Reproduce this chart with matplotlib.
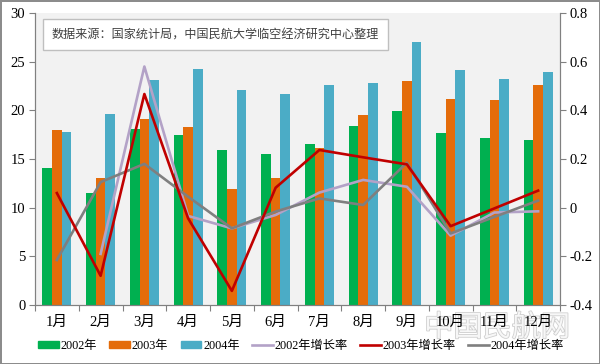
import numpy as np
import matplotlib
matplotlib.use("Agg")
import matplotlib.pyplot as plt
from matplotlib.patches import Patch
from matplotlib.lines import Line2D
import matplotlib.patheffects as pe

plt.rcParams['font.family'] = ['Liberation Serif', 'Noto Sans CJK SC']

months = ['1月', '2月', '3月', '4月', '5月', '6月', '7月', '8月', '9月', '10月', '11月', '12月']
v2002 = [14.1, 11.5, 18.1, 17.5, 15.9, 15.5, 16.5, 18.4, 19.9, 17.7, 17.2, 17.0]
v2003 = [18.0, 13.0, 19.1, 18.3, 11.9, 13.0, 16.1, 19.5, 23.0, 21.2, 21.1, 22.6]
v2004 = [17.8, 19.6, 23.1, 24.2, 22.1, 21.7, 22.6, 22.8, 27.0, 24.1, 23.2, 23.9]
g2002 = [np.nan, -0.19, 0.58, -0.034, -0.085, -0.03, 0.062, 0.114, 0.086, -0.115, -0.02, -0.015]
g2003 = [0.06, -0.28, 0.467, -0.044, -0.342, 0.082, 0.237, 0.207, 0.178, -0.076, -0.003, 0.07]
g2004 = [-0.215, 0.105, 0.18, 0.045, -0.085, -0.016, 0.038, 0.011, 0.185, -0.106, -0.038, 0.029]
left_ticks = [0, 5, 10, 15, 20, 25, 30]
right_ticks = [-0.4, -0.2, 0, 0.2, 0.4, 0.6, 0.8]

c_green = '#00B050'
c_orange = '#E46C0A'
c_blue = '#4BACC6'
c_purple = '#B3A2C7'
c_red = '#C00000'
c_gray = '#7F7F7F'

fig = plt.figure(figsize=(6.0, 3.64), dpi=100)
fig.patch.set_facecolor('white')
fig.patch.set_edgecolor('#8C8C8C')
fig.patch.set_linewidth(2.0)

ax = fig.add_axes([35/600, 1 - 305/364, 525/600, 292/364])
ax.set_facecolor('#F2F2F2')
x = np.arange(len(months))
w = 0.22
ax.bar(x - w, v2002, w, color=c_green, zorder=2)
ax.bar(x, v2003, w, color=c_orange, zorder=2)
ax.bar(x + w, v2004, w, color=c_blue, zorder=2)
ax.set_xlim(-0.5, len(months) - 0.5)
ax.set_ylim(0, 30)
ax.set_yticks(left_ticks)
ax.set_yticklabels([str(t) for t in left_ticks], fontsize=10.5)
ax.set_xticks(np.arange(len(months) + 1) - 0.5)
ax.set_xticklabels([])
ax.set_xticks(x, minor=True)
ax.set_xticklabels(months, minor=True, fontsize=10.5)
ax.tick_params(axis='x', which='major', length=4, direction='out', color='#808080')
ax.tick_params(axis='x', which='minor', length=0, pad=8)
ax.tick_params(axis='y', length=4, direction='out', color='#808080', pad=3)
ax.spines['top'].set_visible(False)
for s in ['left', 'bottom', 'right']:
    ax.spines[s].set_color('#808080')

ax2 = ax.twinx()
ax2.plot(x, g2002, color=c_purple, lw=1.9, zorder=3)
ax2.plot(x, g2003, color=c_red, lw=1.9, zorder=4)
ax2.plot(x, g2004, color=c_gray, lw=1.9, zorder=3)
ax2.set_ylim(-0.4, 0.8)
ax2.set_yticks(right_ticks)
ax2.set_yticklabels(['0' if t == 0 else f'{t:.1f}' for t in right_ticks], fontsize=10.5)
ax2.tick_params(axis='y', length=4, direction='out', color='#808080', pad=3)
ax2.spines['top'].set_visible(False)
for s in ['left', 'bottom', 'right']:
    ax2.spines[s].set_color('#808080')

ax.text(0.032, 0.926, '数据来源：国家统计局，中国民航大学临空经济研究中心整理',
        transform=ax.transAxes, fontsize=8.7, color='#404040', va='center', ha='left',
        family=['Noto Sans CJK SC'],
        bbox=dict(boxstyle='square,pad=0.75', facecolor='white', edgecolor='#BFBFBF', lw=1.0),
        zorder=10)

handles = [Patch(color=c_green, label='2002年'), Patch(color=c_orange, label='2003年'),
           Patch(color=c_blue, label='2004年'),
           Line2D([], [], color=c_purple, lw=1.9, label='2002年增长率'),
           Line2D([], [], color=c_red, lw=1.9, label='2003年增长率'),
           Line2D([], [], color=c_gray, lw=1.9, label='2004年增长率')]
fig.legend(handles=handles, loc='center', bbox_to_anchor=(301/600, 1 - 346/364), ncol=6,
           frameon=False, fontsize=8.8, handlelength=1.7, handleheight=0.55,
           handletextpad=0.15, columnspacing=1.0)

fig.text(497/600, 1 - 328/364, '中国民航网', fontsize=21, color='#F7F7F7',
         family=['Noto Sans CJK SC'], ha='center', va='center', zorder=-1,
         path_effects=[pe.withStroke(linewidth=1.2, foreground='#CFCFCF')])

fig.savefig('out.png', dpi=100)
